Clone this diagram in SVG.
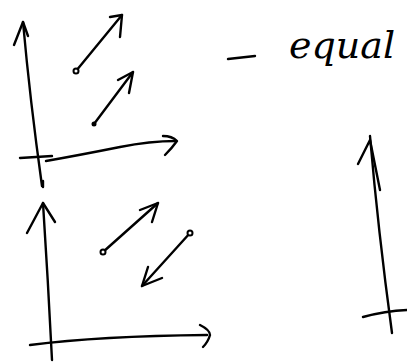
<svg xmlns="http://www.w3.org/2000/svg" width="407" height="362" viewBox="0 0 407 362">
<style>
.s{fill:none;stroke:#000;stroke-width:2.4;stroke-linecap:round;stroke-linejoin:round}
.c{fill:#fff;stroke:#000;stroke-width:2}
.t{font-family:"DejaVu Serif",serif;font-style:italic;font-size:38px;fill:#000}
</style>
<rect width="407" height="362" fill="#fff"/>
<g id="axes-top">
<path class="s" d="M23,22 Q30,100 42,186"/>
<path class="s" d="M14,45 L23,22 L28,36"/>
<path class="s" d="M20,158 L52,156"/>
<path class="s" d="M46,161 Q80,155 120,147 Q150,141 176,141"/>
<path class="s" d="M163,136 Q172,136 177,141 Q172,148 165,155"/>
</g>
<g id="vectors-top">
<path class="s" d="M76,71 L122,15"/>
<path class="s" d="M110,17 L122,15 L120,37"/>
<circle class="c" cx="76" cy="71" r="2.5"/>
<path class="s" d="M94,124 L133,72"/>
<path class="s" d="M118,80 L133,72 L129,93"/>
<circle cx="94" cy="124" r="2.5"/>
</g>
<g id="label">
<path class="s" d="M228,59 L255,56"/>
<text class="t" x="289" y="58">equal</text>
</g>
<g id="axes-bottom">
<path class="s" d="M43,181 L43,187"/>
<path class="s" d="M43,203 Q48,280 52,360"/>
<path class="s" d="M27,233 L43,203 L55,222"/>
<path class="s" d="M30,345 Q100,336 207,335"/>
<path class="s" d="M200,325 Q210,330 210,335 Q208,342 203,347"/>
</g>
<g id="vectors-bottom">
<path class="s" d="M103,252 L158,203"/>
<path class="s" d="M140,210 L158,203 L152,222"/>
<circle class="c" cx="103" cy="252" r="2.5"/>
<path class="s" d="M190,233 L142,286"/>
<path class="s" d="M148,267 L142,286 L162,278"/>
<circle class="c" cx="190" cy="233" r="2.5"/>
</g>
<g id="axis-right">
<path class="s" d="M370,136 Q378,230 392,333"/>
<path class="s" d="M358,164 L370,140 L380,190"/>
<path class="s" d="M363,317 Q385,311 407,310"/>
</g>
</svg>
